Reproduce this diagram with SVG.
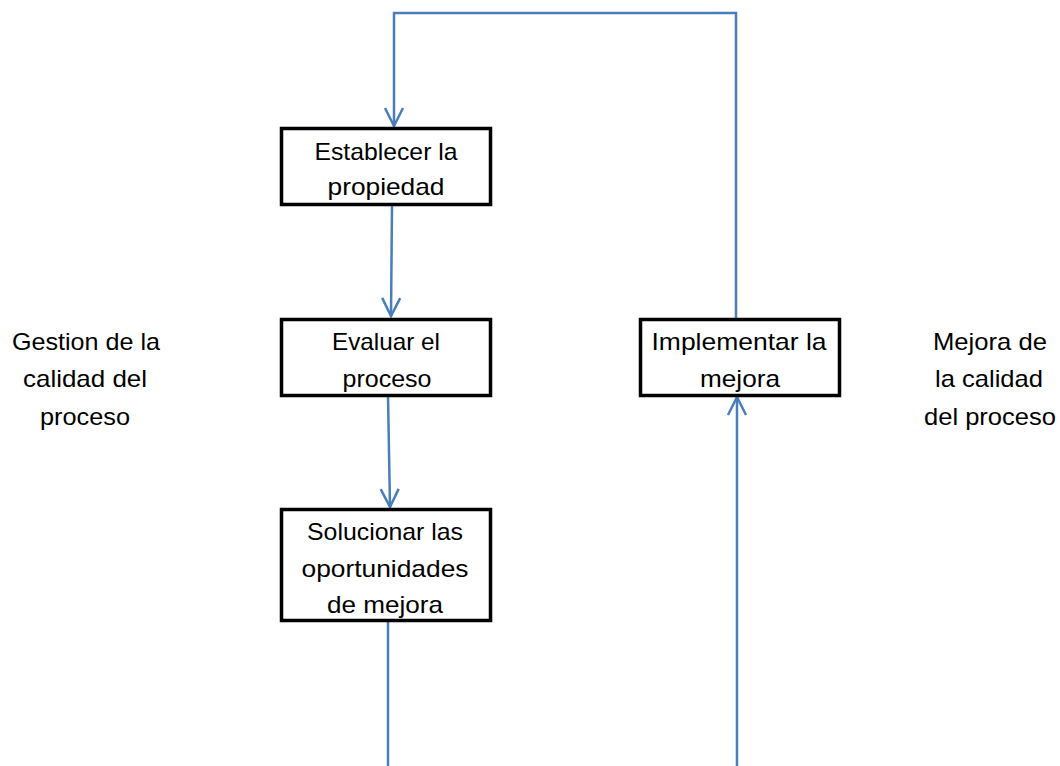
<svg xmlns="http://www.w3.org/2000/svg" width="1060" height="766" viewBox="0 0 1060 766">
<style>
.box{fill:#fff;stroke:#000;stroke-width:3.5}
.lbl{font-family:"Liberation Sans",Arial,sans-serif;font-size:24px;fill:#000;text-anchor:middle}
.con{fill:none;stroke:#4a7ebb;stroke-width:2.5}
</style>
<defs>
<marker id="arr" markerUnits="userSpaceOnUse" markerWidth="28" markerHeight="28" viewBox="-22 -14 28 28" refX="0" refY="0" orient="auto">
<path d="M-18,-9 L0,0 L-18,9" fill="none" stroke="#4a7ebb" stroke-width="2.5"/>
</marker>
</defs>
<rect width="1060" height="766" fill="#fff"/>
<g id="connectors">
<path class="con" d="M736,396 V13 H394 V126" marker-end="url(#arr)"/>
<path class="con" d="M392,206 L391,316" marker-end="url(#arr)"/>
<path class="con" d="M388,396 L390,507" marker-end="url(#arr)"/>
<path class="con" d="M388,622 V766"/>
<path class="con" d="M737,766 V397" marker-end="url(#arr)"/>
</g>
<g id="n1">
<rect class="box" x="281.5" y="128.5" width="209" height="76"/>
<text class="lbl" x="386" y="160" textLength="143" lengthAdjust="spacingAndGlyphs">Establecer la</text>
<text class="lbl" x="386" y="195" textLength="117" lengthAdjust="spacingAndGlyphs">propiedad</text>
</g>
<g id="n2">
<rect class="box" x="281.5" y="319.5" width="209" height="76"/>
<text class="lbl" x="386" y="350" textLength="108" lengthAdjust="spacingAndGlyphs">Evaluar el</text>
<text class="lbl" x="387" y="387" textLength="89" lengthAdjust="spacingAndGlyphs">proceso</text>
</g>
<g id="n3">
<rect class="box" x="281.5" y="509.5" width="209" height="111"/>
<text class="lbl" x="385" y="540" textLength="156" lengthAdjust="spacingAndGlyphs">Solucionar las</text>
<text class="lbl" x="385" y="577" textLength="167" lengthAdjust="spacingAndGlyphs">oportunidades</text>
<text class="lbl" x="385" y="613" textLength="116" lengthAdjust="spacingAndGlyphs">de mejora</text>
</g>
<g id="n4">
<rect class="box" x="640.5" y="319.5" width="199" height="76"/>
<text class="lbl" x="739" y="350" textLength="175" lengthAdjust="spacingAndGlyphs">Implementar la</text>
<text class="lbl" x="740" y="387" textLength="80" lengthAdjust="spacingAndGlyphs">mejora</text>
</g>
<g id="t_left">
<text class="lbl" x="86" y="350" textLength="148" lengthAdjust="spacingAndGlyphs">Gestion de la</text>
<text class="lbl" x="85" y="387" textLength="124" lengthAdjust="spacingAndGlyphs">calidad del</text>
<text class="lbl" x="85" y="425" textLength="90" lengthAdjust="spacingAndGlyphs">proceso</text>
</g>
<g id="t_right">
<text class="lbl" x="990" y="350" textLength="114" lengthAdjust="spacingAndGlyphs">Mejora de</text>
<text class="lbl" x="989" y="387" textLength="108" lengthAdjust="spacingAndGlyphs">la calidad</text>
<text class="lbl" x="990" y="425" textLength="132" lengthAdjust="spacingAndGlyphs">del proceso</text>
</g>
</svg>
